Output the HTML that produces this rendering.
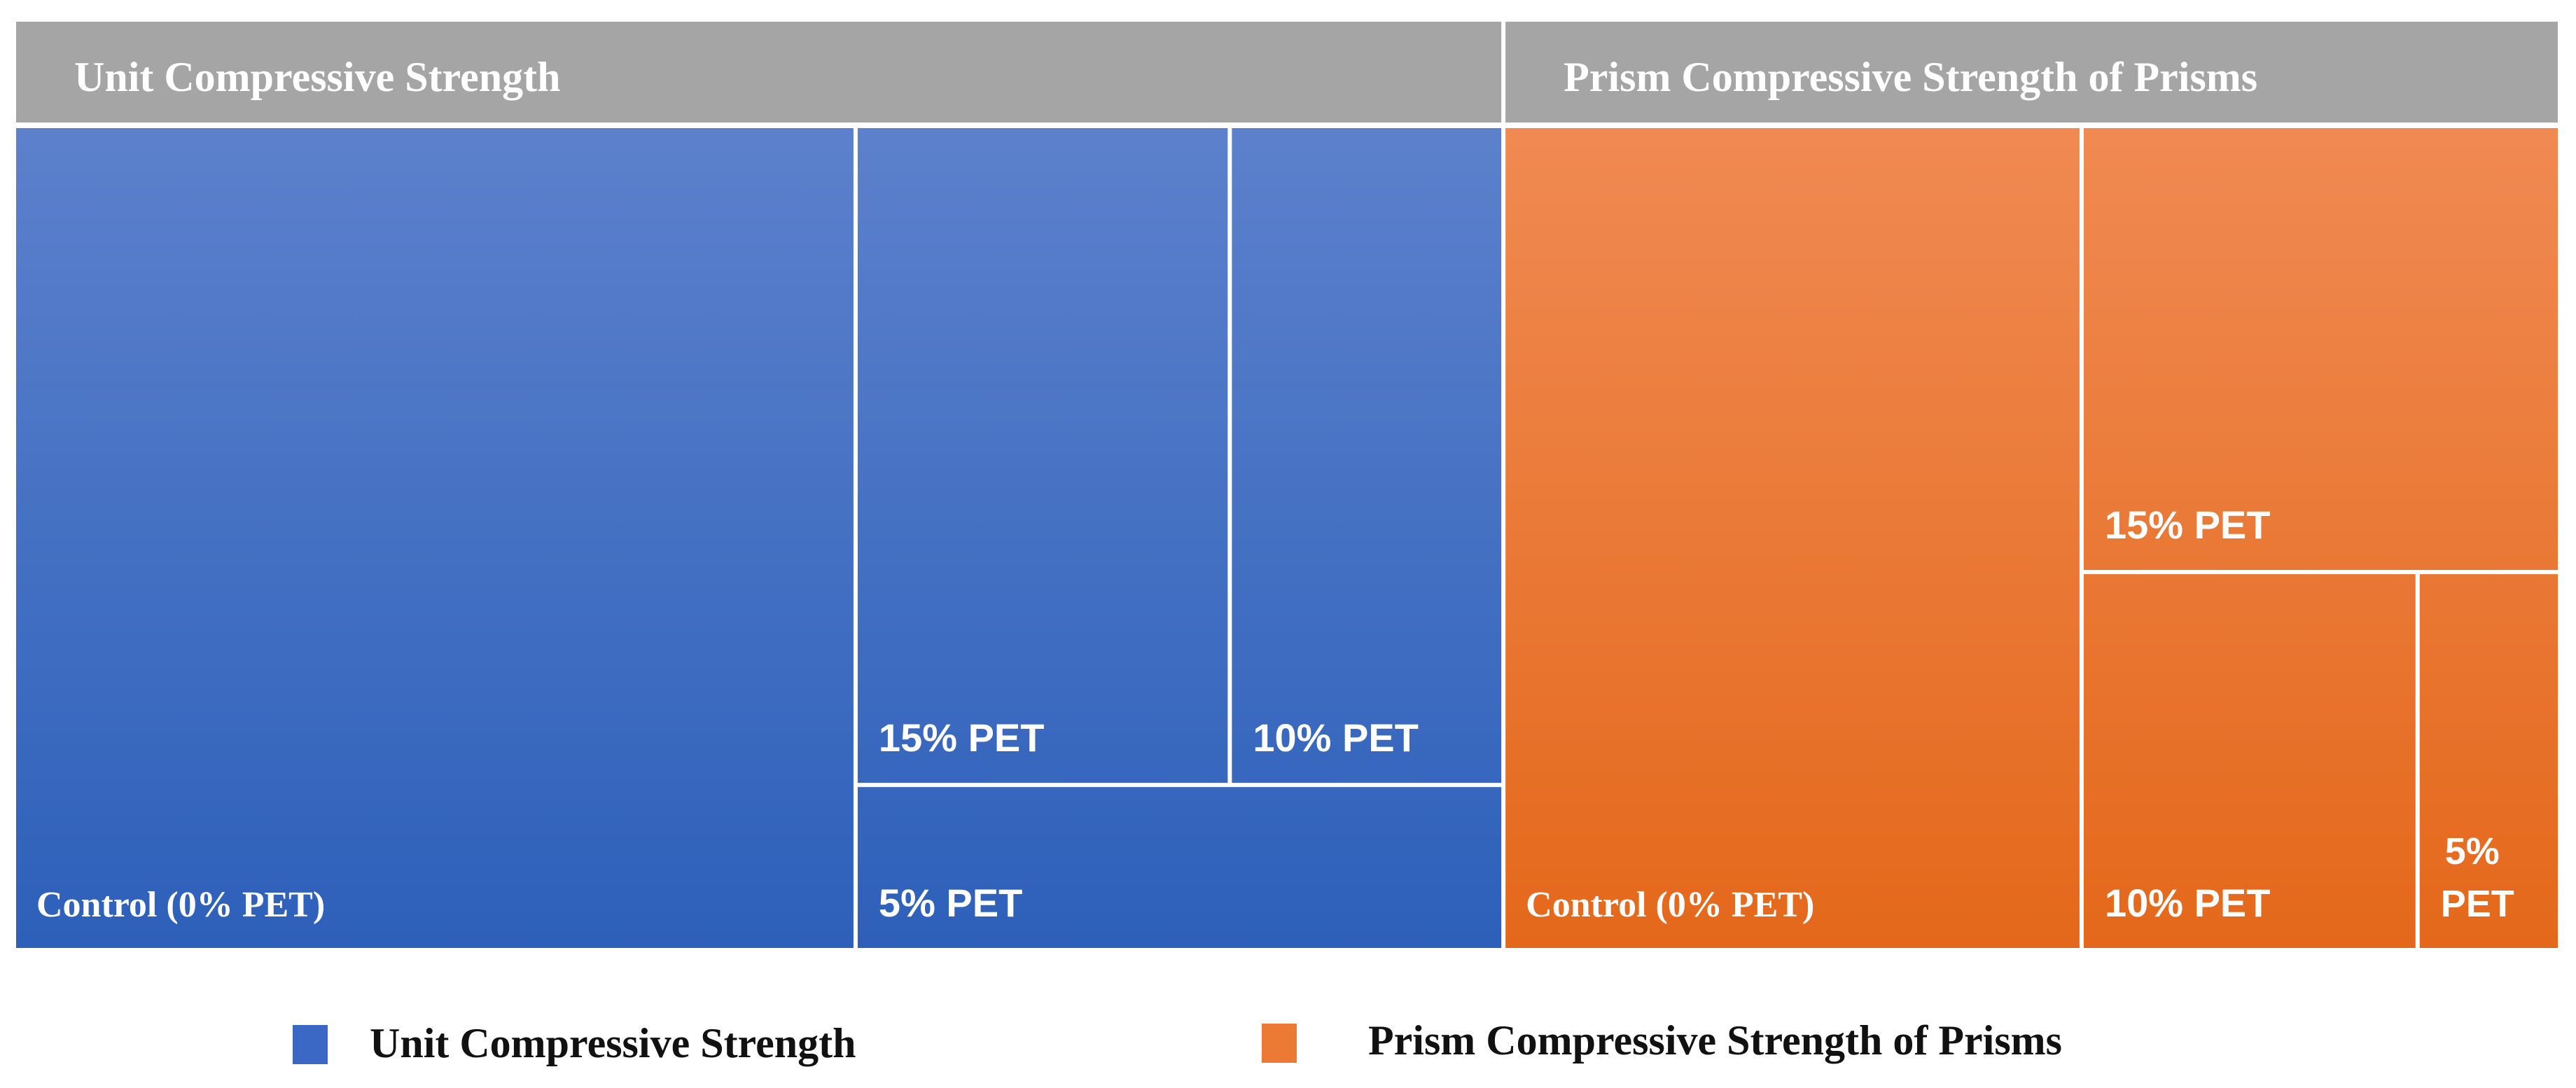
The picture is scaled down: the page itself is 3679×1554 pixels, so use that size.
<!DOCTYPE html>
<html><head><meta charset="utf-8">
<style>
html,body{margin:0;padding:0;background:#fff;}
svg{display:block;}
</style></head>
<body>
<svg id="chart" width="3679" height="1554" viewBox="0 0 3679 1554" xmlns="http://www.w3.org/2000/svg">
<defs>
<linearGradient id="gBlue" gradientUnits="userSpaceOnUse" x1="0" y1="183" x2="0" y2="1354"><stop offset="0" stop-color="#5c81cc"/><stop offset="1" stop-color="#2d60ba"/></linearGradient>
<linearGradient id="gOrange" gradientUnits="userSpaceOnUse" x1="0" y1="183" x2="0" y2="1354"><stop offset="0" stop-color="#f08a52"/><stop offset="1" stop-color="#e4681b"/></linearGradient>
</defs>
<g id="tiles"></g>
<g>
<rect x="418" y="1464" width="50" height="56" fill="#3b68c4"/>
<text x="528" y="1510" font-family="Liberation Serif, serif" font-weight="bold" font-size="60" fill="#111">Unit Compressive Strength</text>
<rect x="1802" y="1462" width="50" height="56" fill="#ec7a35"/>
<text x="1954" y="1506" font-family="Liberation Serif, serif" font-weight="bold" font-size="60" fill="#111">Prism Compressive Strength of Prisms</text>
</g>
</svg>
<script>
// Data (estimated relative values from tile areas)
const groups = ["Unit Compressive Strength", "Prism Compressive Strength of Prisms"];
const categories = ["Control (0% PET)", "15% PET", "10% PET", "5% PET"];
const unitValues = [13.9, 5.0, 3.6, 2.1];
const prismValues = [9.55, 4.26, 2.53, 1.04];
// row arrangement (indices into categories) for the non-control tiles
const unitRows = [[1, 2], [3]];
const prismRows = [[1], [2, 3]];

const NS = "http://www.w3.org/2000/svg";
const svg = document.getElementById('tiles');
const X0 = 23, X1 = 3653, HEAD_TOP = 31, HEAD_BOT = 175, Y0 = 183, Y1 = 1354, GAP = 6;
const fills = ["url(#gBlue)", "url(#gOrange)"];
const sum = a => a.reduce((s, v) => s + v, 0);
const totals = [sum(unitValues), sum(prismValues)];
const grand = totals[0] + totals[1];
const widthScale = v => v / grand * (X1 - X0);

function mk(tag, attrs) { const e = document.createElementNS(NS, tag); for (const k in attrs) e.setAttribute(k, attrs[k]); return e; }

function label(x, y, txt, serif, size) {
  const t = mk('text', { x: x, y: y, fill: '#fff', 'font-size': size, 'font-weight': 'bold',
    'font-family': serif ? 'Liberation Serif, serif' : 'Liberation Sans, sans-serif' });
  t.textContent = txt;
  
  
  svg.appendChild(t);
  return t;
}

function tile(x, y, w, h, fill, name) {
  const r = mk('rect', { x: x, y: y, width: Math.max(0, w), height: Math.max(0, h), fill: fill });
  
  
  svg.appendChild(r);
}

let gx = X0;
[unitValues, prismValues].forEach((vals, gi) => {
  const gw = widthScale(totals[gi]);
  const hd = mk('rect', { x: gx, y: HEAD_TOP, width: gw - (gi === 0 ? GAP : 0), height: HEAD_BOT - HEAD_TOP, fill: '#a5a5a5' });
  
  
  svg.appendChild(hd);
  const ht = mk('text', { x: gx + 83, y: 130, fill: '#fff', 'font-size': 60, 'font-family': 'Liberation Serif, serif', 'font-weight': 'bold' });
  ht.textContent = groups[gi];
  
  
  svg.appendChild(ht);

  const H = Y1 - Y0;
  const gRight = gx + gw - (gi === 0 ? GAP : 0);
  const cw = vals[0] / totals[gi] * gw;
  tile(gx, Y0, cw - GAP, H, fills[gi], 'tile-control');
  label(gx + 29, Y1 - 45, categories[0], true, 52);
  const restX = gx + cw, restW = gRight - restX;
  const rows = gi === 0 ? unitRows : prismRows;
  const restTotal = sum(vals.slice(1));
  let ry = Y0;
  rows.forEach((row, ri) => {
    const rowSum = sum(row.map(i => vals[i]));
    const rh = rowSum / restTotal * H;
    let rx = restX;
    row.forEach((ci, k) => {
      const w = vals[ci] / rowSum * restW;
      const isLastCol = k === row.length - 1;
      const isLastRow = ri === rows.length - 1;
      tile(rx, ry, w - (isLastCol ? 0 : GAP), rh - (isLastRow ? 0 : GAP), fills[gi], 'tile-' + categories[ci].replace('% PET', 'pct-pet'));
      const bottom = ry + rh - (isLastRow ? 0 : GAP);
      if (gi === 1 && ci === 3) {
        label(rx + 36, bottom - 120, '5%', false, 54);
        label(rx + 30, bottom - 45, 'PET', false, 54);
      } else {
        label(rx + 30, bottom - 45, categories[ci], false, 56);
      }
      rx += w;
    });
    ry += rh;
  });
  gx += gw;
});
</script>
</body></html>
